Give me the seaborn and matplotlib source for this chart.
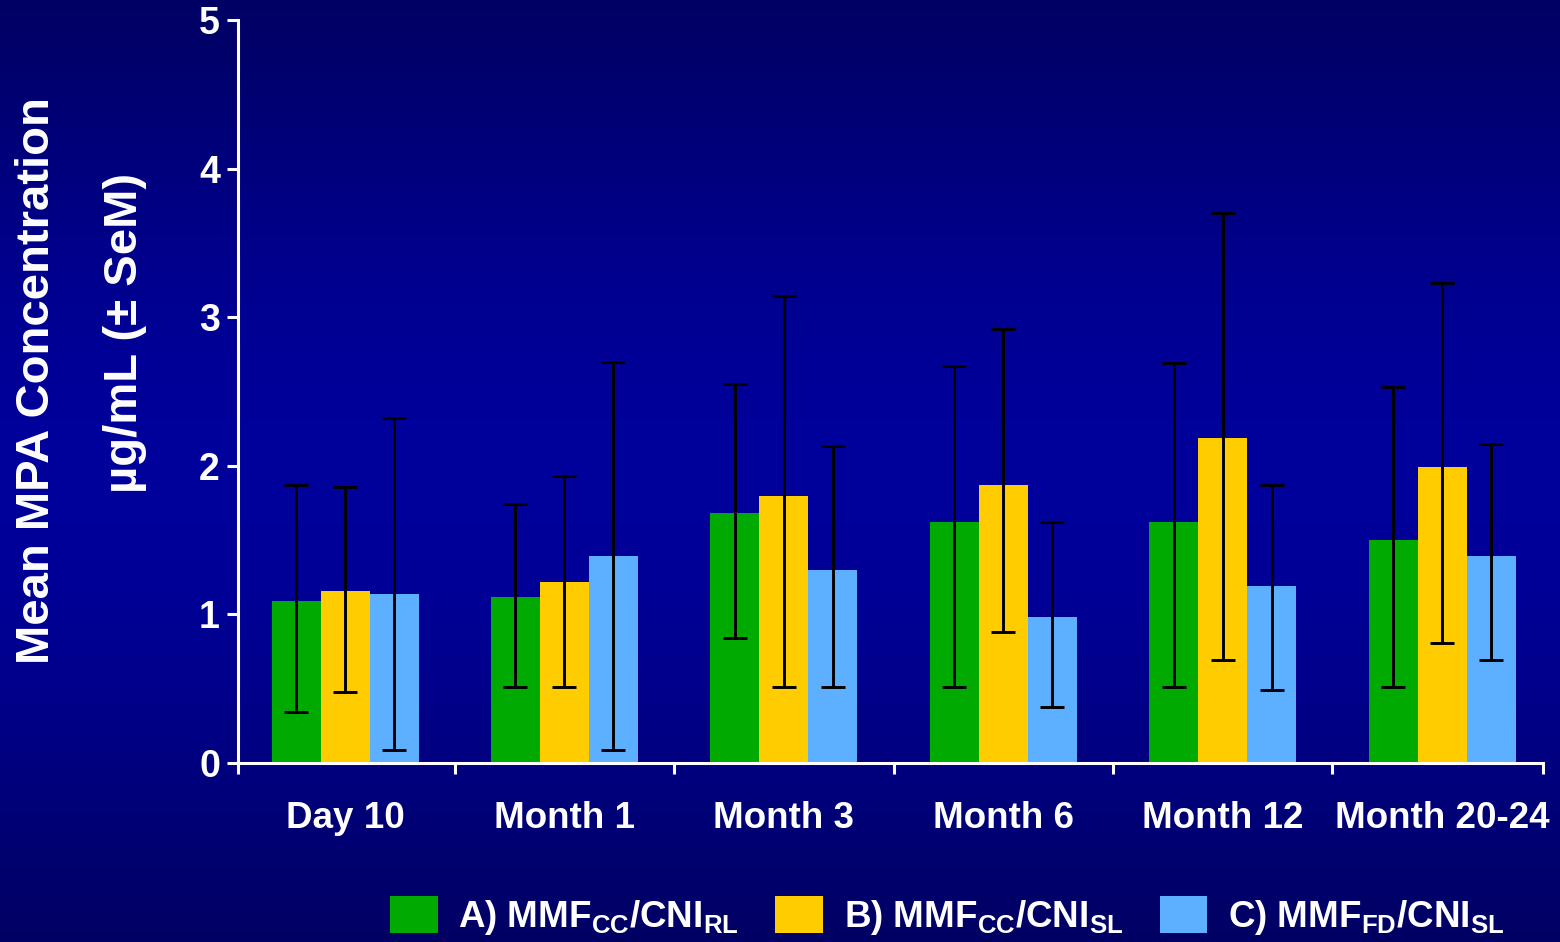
import numpy as np
import pandas as pd
import matplotlib
matplotlib.use("Agg")
import matplotlib.pyplot as plt
import seaborn as sns
from matplotlib.patches import Patch

# values
timepoints = ["Day 10", "Month 1", "Month 3", "Month 6", "Month 12", "Month 20-24"]
groups = ["A", "B", "C"]
legend_labels = [r"A) MMF$_{\mathbf{CC}}$/CNI$_{\mathbf{RL}}$",
                 r"B) MMF$_{\mathbf{CC}}$/CNI$_{\mathbf{SL}}$",
                 r"C) MMF$_{\mathbf{FD}}$/CNI$_{\mathbf{SL}}$"]

mean_a = [1.09, 1.12, 1.68, 1.62, 1.62, 1.50]
mean_b = [1.16, 1.22, 1.80, 1.87, 2.19, 1.99]
mean_c = [1.14, 1.39, 1.30, 0.98, 1.19, 1.39]

upper_a = [1.87, 1.74, 2.55, 2.67, 2.69, 2.53]
upper_b = [1.86, 1.93, 3.14, 2.92, 3.70, 3.23]
upper_c = [2.32, 2.70, 2.13, 1.62, 1.87, 2.15]

lower_a = [0.34, 0.51, 0.84, 0.51, 0.51, 0.51]
lower_b = [0.48, 0.51, 0.51, 0.88, 0.69, 0.81]
lower_c = [0.09, 0.09, 0.51, 0.38, 0.49, 0.69]

colors = ["#00AA00", "#FFCC00", "#5CB0FF"]

df = pd.DataFrame({
    "time": timepoints * 3,
    "group": [g for g in groups for _ in timepoints],
    "mean": mean_a + mean_b + mean_c,
    "upper": upper_a + upper_b + upper_c,
    "lower": lower_a + lower_b + lower_c,
})

sns.set_style("white")
plt.rcParams["font.family"] = ["Liberation Sans", "DejaVu Sans"]
plt.rcParams["font.weight"] = "bold"
plt.rcParams["mathtext.fontset"] = "custom"
plt.rcParams["mathtext.rm"] = "Liberation Sans:bold"
plt.rcParams["mathtext.bf"] = "Liberation Sans:bold"

fig = plt.figure(figsize=(15.6, 9.42), dpi=100)

# background gradient: dark navy at top/bottom, brighter in the middle
bg = fig.add_axes([0, 0, 1, 1], zorder=-10)
t = np.linspace(0, 1, 256)
blue = 100 + 55 * np.sin(np.pi * t) ** 1.2
grad = np.zeros((256, 1, 3))
grad[:, 0, 2] = blue / 255
bg.imshow(grad, aspect="auto", extent=[0, 1, 0, 1])
bg.axis("off")

ax = fig.add_axes([238 / 1560, 1 - 763 / 942, (1543 - 238) / 1560, (763 - 20) / 942])
ax.set_facecolor("none")

sns.barplot(data=df, x="time", y="mean", hue="group", palette=colors,
            width=0.67, errorbar=None, saturation=1, legend=False,
            linewidth=0, edgecolor="none", ax=ax)

for cont, g in zip(ax.containers, groups):
    sub = df[df["group"] == g]
    xs = [b.get_x() + b.get_width() / 2 for b in cont]
    m = sub["mean"].values
    ax.errorbar(xs, m, yerr=[m - sub["lower"].values, sub["upper"].values - m],
                fmt="none", ecolor="black", elinewidth=2.1, capsize=8.7,
                capthick=2.1, zorder=5)

x_lo, x_hi = -0.488, 5.46
ax.set_ylim(0, 5)
ax.set_xlim(x_lo, x_hi)
ax.set_yticks([0, 1, 2, 3, 4, 5])
ax.set_xlabel("")
ax.set_ylabel("")

for s in ["top", "right"]:
    ax.spines[s].set_visible(False)
for s in ["left", "bottom"]:
    ax.spines[s].set_color("white")
    ax.spines[s].set_linewidth(2.2)

ax.tick_params(axis="y", left=True, colors="white", labelsize=27, length=8,
               width=2.2, direction="out", pad=5)
ax.tick_params(axis="x", which="major", bottom=True, colors="white",
               labelsize=26.5, length=0, pad=27)
ax.set_xticks([x_lo, 0.5, 1.5, 2.5, 3.5, 4.5, x_hi], minor=True)
ax.tick_params(axis="x", which="minor", bottom=True, colors="white", length=8,
               width=2.2, direction="out")
for lab in ax.get_xticklabels() + ax.get_yticklabels():
    lab.set_fontweight("bold")
    lab.set_color("white")

fig.text(37 / 1560, 1 - 381 / 942, "Mean MPA Concentration", rotation=90,
         color="white", fontsize=34, fontweight="bold", ha="center", va="center")
fig.text(125 / 1560, 1 - 333 / 942, "µg/mL (± SeM)", rotation=90,
         color="white", fontsize=34, fontweight="bold", ha="center", va="center")

handles = [Patch(facecolor=c, edgecolor="none") for c in colors]
fig.legend(handles, legend_labels, loc="lower center", ncol=3,
           bbox_to_anchor=(947 / 1560, -0.03), frameon=False,
           labelcolor="white", handlelength=1.3, handleheight=1.15,
           handletextpad=0.55, columnspacing=1.0,
           prop={"weight": "bold", "size": 26.5})

fig.savefig("out.png", dpi=100)
